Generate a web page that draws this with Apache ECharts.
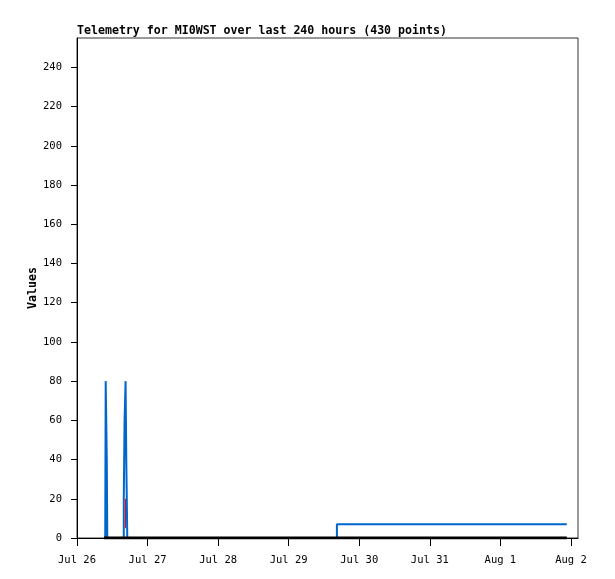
<!DOCTYPE html>
<html>
<head>
<meta charset="utf-8">
<script src="https://cdn.jsdelivr.net/npm/echarts@6/dist/echarts.min.js"></script>
<style>html,body{margin:0;padding:0;background:#fff}#c{width:615px;height:579px}</style>
</head>
<body>
<div id="c"></div>
<script>
// hours since Jul 26 00:00
const dayLabels = ["Jul 26","Jul 27","Jul 28","Jul 29","Jul 30","Jul 31","Aug 1","Aug 2"];
const yTicks = [0,20,40,60,80,100,120,140,160,180,200,220,240];
const blueHours = [9.6, 9.76, 10.13, 10.3, 15.91, 16.18, 16.52, 16.76, 17.1, 88.4, 166.6];
const blueValues = [0, 80, 40, 0, 20, 60, 80, 40, 0, 7, 7];
const blackHours = [9.2, 166.6];
const blackValues = [0, 0];
const redHours = [16.5, 16.5];
const redValues = [20, 5];
const titleText = "Telemetry for MI0WST over last 240 hours (430 points)";

const zip = (a, b) => a.map((x, i) => [x, b[i]]);
const mono = "DejaVu Sans Mono";
const chart = echarts.init(document.getElementById('c'), null, {renderer: 'canvas'});
chart.setOption({
  animation: false,
  backgroundColor: '#fff',
  title: {
    text: titleText, left: 72, top: 20,
    textStyle: {fontFamily: mono, fontWeight: 'bold', fontSize: 11.6, color: '#000'}
  },
  grid: {left: 77, top: 38, right: 37, bottom: 41, show: true, borderColor: '#333', borderWidth: 1},
  xAxis: {
    type: 'value', min: 0, max: 170.4, interval: 24,
    axisLine: {show: true, lineStyle: {color: '#000', width: 1}},
    axisTick: {show: true, inside: false, length: 8, lineStyle: {color: '#000'}},
    axisLabel: {
      margin: 17, color: '#000', fontFamily: mono, fontSize: 10.5,
      formatter: v => dayLabels[Math.round(v / 24)] || '',
      showMaxLabel: false
    },
    splitLine: {show: false}
  },
  yAxis: {
    type: 'value', min: 0, max: 255, interval: 20,
    name: 'Values', nameLocation: 'middle', nameGap: 38, nameRotate: 90,
    nameMoveOverlap: false,
    nameTextStyle: {fontFamily: mono, fontWeight: 'bold', fontSize: 11.6, color: '#000'},
    axisLine: {show: true, lineStyle: {color: '#000', width: 1}},
    axisTick: {show: true, inside: false, length: 6, lineStyle: {color: '#000'}},
    axisLabel: {
      margin: 15, color: '#000', fontFamily: mono, fontSize: 10.5,
      formatter: v => (yTicks.indexOf(v) >= 0 ? String(v) : ''),
      showMaxLabel: false
    },
    splitLine: {show: false}
  },
  series: [
    {type: 'line', data: zip(blueHours, blueValues), step: 'end', showSymbol: false,
     lineStyle: {color: '#0066cc', width: 2}, z: 2},
    {type: 'line', data: zip(blackHours, blackValues), showSymbol: false,
     lineStyle: {color: '#000', width: 3}, z: 3},
    {type: 'line', data: zip(redHours, redValues), showSymbol: false,
     lineStyle: {color: '#ff0000', width: 1}, z: 4}
  ]
});
</script>
</body>
</html>
